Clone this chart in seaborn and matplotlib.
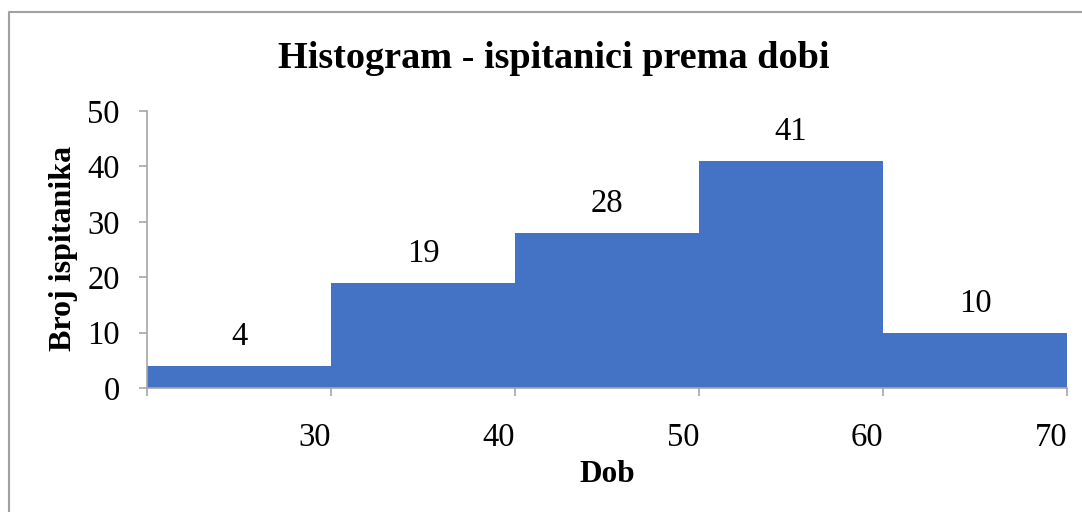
import matplotlib
matplotlib.use("Agg")
import matplotlib.pyplot as plt
import seaborn as sns
import numpy as np
from matplotlib.lines import Line2D

# age bins and counts
bin_edges = [20, 30, 40, 50, 60, 70]
counts = [4, 19, 28, 41, 10]
x_ticks = [30, 40, 50, 60, 70]
y_ticks = [0, 10, 20, 30, 40, 50]

sns.set_style("white")
plt.rcParams['font.family'] = ['Liberation Serif', 'DejaVu Serif']
plt.rcParams['text.color'] = 'black'

mids = [(a + b) / 2 for a, b in zip(bin_edges[:-1], bin_edges[1:])]

W, H = 1082, 512
fig = plt.figure(figsize=(W / 100, H / 100), dpi=100)
ax = fig.add_axes([147 / W, 1 - 388 / H, 920 / W, 277 / H])

sns.histplot(x=mids, weights=counts, bins=bin_edges, color="#4472C4",
             alpha=1, linewidth=0, edgecolor="none", ax=ax)

for m, c in zip(mids, counts):
    ax.text(m, c + 5.2, str(c), ha="center", va="center", fontsize=23.5)

ax.set_xlim(20, 70)
ax.set_ylim(0, 50)
ax.set_xticks([20] + x_ticks)
ax.set_xticklabels([""] + [str(t) for t in x_ticks], ha="right")
ax.set_yticks(y_ticks)
ax.tick_params(axis="both", labelsize=23.5, colors="#A6A6A6", labelcolor="black",
               length=6, width=1.2, direction="out", bottom=True, left=True)
ax.tick_params(axis="x", pad=19)
ax.tick_params(axis="y", pad=13.5)
ax.set_xlabel("")
ax.set_ylabel("")

for s in ["top", "right"]:
    ax.spines[s].set_visible(False)
for s in ["left", "bottom"]:
    ax.spines[s].set_color("#A6A6A6")
    ax.spines[s].set_linewidth(1.2)

fig.text(554 / W, 1 - 58 / H, "Histogram - ispitanici prema dobi", fontsize=27.5,
         fontweight="bold", ha="center", va="center")
fig.text(607 / W, 1 - 475 / H, "Dob", fontsize=22.5, fontweight="bold",
         ha="center", va="center")
fig.text(63 / W, 1 - 248 / H, "Broj ispitanika", fontsize=23, fontweight="bold",
         ha="center", va="center", rotation=90)

# chart frame: only top and left edges fall inside the picture
fig.lines.append(Line2D([9 / W, 9 / W, 1], [0, 1 - 12 / H, 1 - 12 / H],
                        transform=fig.transFigure, color="#A0A0A0", linewidth=1.5))

fig.savefig("out.png", dpi=100)
